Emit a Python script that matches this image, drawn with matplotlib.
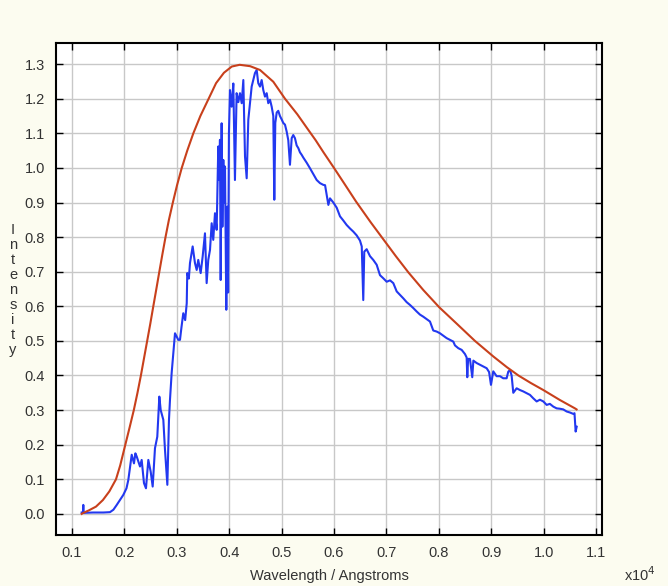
import numpy as np
import matplotlib
matplotlib.use('Agg')
import matplotlib.pyplot as plt

plt.rcParams['font.family'] = ['Liberation Sans', 'DejaVu Sans']

# blackbody fit (red), wavelength in 1e4 Angstrom
bb_wl = [0.1185, 0.1204, 0.1320, 0.1458, 0.1590, 0.1713, 0.1840, 0.1920, 0.2018, 0.2100,
         0.2180, 0.2250, 0.2315, 0.2375, 0.2435, 0.2495, 0.2552, 0.2610, 0.2667, 0.2725,
         0.2785, 0.2850, 0.2925, 0.3005, 0.3095, 0.3200, 0.3316, 0.3450, 0.3608, 0.3750,
         0.3900, 0.4050, 0.4200, 0.4400, 0.4588, 0.4842, 0.5065, 0.5300, 0.5500, 0.5650,
         0.5800, 0.6000, 0.6200, 0.6420, 0.6700, 0.6940, 0.7180, 0.7420, 0.7705, 0.8010,
         0.8341, 0.8690, 0.9041, 0.9300, 0.9520, 0.9760, 0.9995, 1.0313, 1.0599, 1.0630]
bb_int = [0.000, 0.002, 0.010, 0.021, 0.040, 0.065, 0.100, 0.140, 0.200, 0.250,
          0.300, 0.350, 0.400, 0.450, 0.500, 0.550, 0.600, 0.650, 0.700, 0.750,
          0.800, 0.850, 0.900, 0.950, 1.000, 1.050, 1.100, 1.150, 1.200, 1.245,
          1.275, 1.293, 1.298, 1.294, 1.283, 1.249, 1.200, 1.155, 1.112, 1.080,
          1.045, 1.000, 0.954, 0.903, 0.843, 0.794, 0.745, 0.698, 0.647, 0.597,
          0.550, 0.500, 0.455, 0.424, 0.400, 0.378, 0.358, 0.329, 0.305, 0.302]

# measured spectrum (blue)
sp_wl = [0.1185, 0.1210, 0.1216, 0.1222, 0.1400, 0.1600, 0.1725, 0.1790, 0.1850, 0.1916,
         0.1980, 0.2040, 0.2075, 0.2110, 0.2140, 0.2183, 0.2210, 0.2235, 0.2298, 0.2330,
         0.2374, 0.2412, 0.2457, 0.2502, 0.2540, 0.2584, 0.2628, 0.2667, 0.2693, 0.2743,
         0.2775, 0.2820, 0.2851, 0.2870, 0.2902, 0.2966, 0.3029, 0.3061, 0.3090, 0.3124,
         0.3160, 0.3190, 0.3200, 0.3230, 0.3252, 0.3303, 0.3347, 0.3380, 0.3410, 0.3456,
         0.3494, 0.3538, 0.3570, 0.3601, 0.3634, 0.3666, 0.3696, 0.3729, 0.3761, 0.3792,
         0.3811, 0.3824, 0.3838, 0.3856, 0.3870, 0.3888, 0.3905, 0.3920, 0.3945, 0.3964,
         0.3980, 0.3995, 0.4015, 0.4047, 0.4079, 0.4110, 0.4142, 0.4175, 0.4206, 0.4239,
         0.4270, 0.4302, 0.4334, 0.4365, 0.4397, 0.4429, 0.4460, 0.4492, 0.4525, 0.4555,
         0.4588, 0.4620, 0.4651, 0.4683, 0.4716, 0.4746, 0.4779, 0.4811, 0.4842, 0.4861,
         0.4880, 0.4907, 0.4937, 0.4969, 0.5002, 0.5032, 0.5065, 0.5097, 0.5128, 0.5160,
         0.5193, 0.5223, 0.5255, 0.5288, 0.5320, 0.5351, 0.5383, 0.5414, 0.5479, 0.5542,
         0.5605, 0.5670, 0.5733, 0.5796, 0.5830, 0.5893, 0.5924, 0.5987, 0.6052, 0.6115,
         0.6178, 0.6242, 0.6305, 0.6368, 0.6433, 0.6496, 0.6530, 0.6559, 0.6578, 0.6624,
         0.6687, 0.6750, 0.6815, 0.6878, 0.6941, 0.7006, 0.7070, 0.7132, 0.7197, 0.7260,
         0.7323, 0.7387, 0.7450, 0.7513, 0.7578, 0.7641, 0.7704, 0.7769, 0.7832, 0.7895,
         0.7960, 0.8023, 0.8086, 0.8150, 0.8214, 0.8277, 0.8309, 0.8372, 0.8437, 0.8500,
         0.8532, 0.8544, 0.8560, 0.8595, 0.8639, 0.8660, 0.8723, 0.8786, 0.8850, 0.8914,
         0.8960, 0.8996, 0.9040, 0.9104, 0.9168, 0.9230, 0.9295, 0.9326, 0.9359, 0.9390,
         0.9422, 0.9486, 0.9549, 0.9612, 0.9676, 0.9740, 0.9804, 0.9868, 0.9930, 0.9995,
         1.0059, 1.0120, 1.0186, 1.0250, 1.0310, 1.0376, 1.0440, 1.0504, 1.0567, 1.0590,
         1.0612, 1.0632]
sp_int = [0.004, 0.004, 0.026, 0.003, 0.004, 0.004, 0.005, 0.012, 0.025, 0.040,
          0.055, 0.074, 0.098, 0.137, 0.171, 0.146, 0.175, 0.166, 0.137, 0.156,
          0.089, 0.074, 0.156, 0.122, 0.079, 0.190, 0.223, 0.339, 0.300, 0.272,
          0.185, 0.084, 0.272, 0.329, 0.407, 0.522, 0.503, 0.503, 0.540, 0.580,
          0.560, 0.609, 0.696, 0.680, 0.725, 0.773, 0.725, 0.705, 0.734, 0.696,
          0.744, 0.811, 0.667, 0.734, 0.763, 0.840, 0.792, 0.869, 0.821, 1.062,
          0.965, 1.081, 0.676, 1.129, 0.830, 1.023, 0.900, 1.004, 0.590, 0.888,
          0.640, 1.100, 1.225, 1.177, 1.244, 0.965, 1.216, 1.190, 1.216, 1.187,
          1.254, 1.033, 0.970, 1.139, 1.187, 1.235, 1.254, 1.274, 1.283, 1.245,
          1.235, 1.254, 1.225, 1.206, 1.216, 1.187, 1.197, 1.177, 1.150, 0.908,
          1.130, 1.160, 1.165, 1.150, 1.140, 1.130, 1.125, 1.105, 1.080, 1.009,
          1.086, 1.095, 1.086, 1.065, 1.057, 1.045, 1.038, 1.030, 1.015, 0.999,
          0.982, 0.965, 0.956, 0.951, 0.950, 0.893, 0.912, 0.900, 0.885, 0.860,
          0.848, 0.835, 0.825, 0.816, 0.805, 0.790, 0.773, 0.618, 0.758, 0.765,
          0.745, 0.734, 0.720, 0.690, 0.681, 0.671, 0.675, 0.667, 0.643, 0.633,
          0.623, 0.612, 0.604, 0.595, 0.585, 0.576, 0.570, 0.563, 0.556, 0.530,
          0.527, 0.522, 0.515, 0.508, 0.503, 0.498, 0.487, 0.479, 0.474, 0.462,
          0.452, 0.395, 0.448, 0.448, 0.395, 0.443, 0.436, 0.431, 0.426, 0.421,
          0.410, 0.373, 0.412, 0.398, 0.398, 0.392, 0.392, 0.411, 0.416, 0.400,
          0.350, 0.363, 0.358, 0.354, 0.349, 0.344, 0.334, 0.325, 0.330, 0.325,
          0.315, 0.318, 0.310, 0.305, 0.304, 0.302, 0.296, 0.293, 0.289, 0.291,
          0.238, 0.252]

xticks = [0.1, 0.2, 0.3, 0.4, 0.5, 0.6, 0.7, 0.8, 0.9, 1.0, 1.1]
yticks = [0.0, 0.1, 0.2, 0.3, 0.4, 0.5, 0.6, 0.7, 0.8, 0.9, 1.0, 1.1, 1.2, 1.3]

bg = '#fcfcf0'
txt = '#333333'

fig = plt.figure(figsize=(6.68, 5.86), dpi=100, facecolor=bg)
ax = fig.add_axes([56/668, 1-535/586, 546/668, 492/586])
ax.set_facecolor('white')

ax.plot(sp_wl, sp_int, color='#2238f0', lw=1.5, zorder=3)
ax.plot(bb_wl, bb_int, color='#c8401c', lw=1.5, zorder=4)

ax.set_xlim(0.0695, 1.1115)
ax.set_ylim(-0.061, 1.361)
ax.set_xticks(xticks)
ax.set_yticks(yticks)
ax.set_xticklabels(['%.1f' % v for v in xticks])
ax.set_yticklabels(['%.1f' % v for v in yticks])
ax.grid(True, color='#c8c8c8', lw=1.0)
ax.set_axisbelow(True)
ax.tick_params(direction='in', length=5, width=1, top=True, right=True,
               labelsize=10.5, labelcolor=txt, pad=8)
for s in ax.spines.values():
    s.set_linewidth(1.5)
    s.set_color('black')

fig.text(329/668, 1-576/586, 'Wavelength / Angstroms', ha='center', va='center',
         fontsize=10.5, color=txt)
fig.text(640/668, 1-575/586, r'x10$^4$', ha='center', va='center',
         fontsize=10.5, color=txt)
fig.text(13/668, 1-290/586, '\n'.join('Intensity'), ha='center', va='center',
         fontsize=10.5, color=txt, linespacing=1.1)

fig.savefig('out.png', dpi=100, facecolor=bg)
plt.close(fig)
